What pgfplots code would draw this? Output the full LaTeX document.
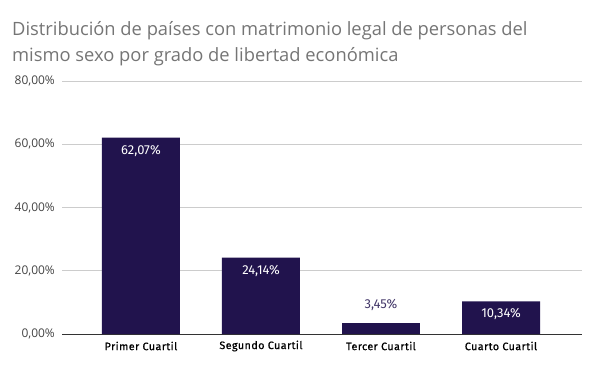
\documentclass[border=0pt]{standalone}
\usepackage{pgfplots}
\pgfplotsset{compat=1.18}
\usepackage{fontspec}
\setmainfont{Open Sans}
\newfontfamily\fira[LetterSpace=4, FakeBold=0.6]{Fira Sans}
\newfontfamily\firab{Fira Sans}
\definecolor{barc}{HTML}{21134D}
\definecolor{titlec}{HTML}{757575}
\definecolor{tickc}{HTML}{444444}
\definecolor{gridc}{HTML}{CCCCCC}
\definecolor{axisc}{HTML}{333333}
\begin{document}
\begin{tikzpicture}[x=1bp,y=1bp]
\useasboundingbox (0,0) rectangle (600,371);
\node[anchor=base west, inner sep=0, text=titlec, font=\fontsize{18.4}{20}\selectfont] at (12,336) {Distribución de países con matrimonio legal de personas del};
\node[anchor=base west, inner sep=0, text=titlec, font=\fontsize{18.4}{20}\selectfont] at (12,310) {mismo sexo por grado de libertad económica};
\begin{axis}[
  at={(62bp,37bp)}, anchor=south west,
  scale only axis, width=520bp, height=253bp,
  xmin=-0.658, xmax=3.675, ymin=0, ymax=80,
  axis x line*=bottom, axis y line*=left,
  y axis line style={draw=none},
  x axis line style={draw=axisc, line width=1bp},
  major tick length=0pt,
  ytick={0,20,40,60,80},
  yticklabels={{0,00\%},{20,00\%},{40,00\%},{60,00\%},{80,00\%}},
  xtick={0,1,2,3},
  xticklabels={Primer Cuartil,Segundo Cuartil,Tercer Cuartil,Cuarto Cuartil},
  ymajorgrids, grid style={draw=gridc, line width=0.8bp},
  yticklabel style={font=\fontsize{12}{14}\selectfont, text=tickc, anchor=east, inner sep=0pt, xshift=-7bp},
  xticklabel style={font=\fira\fontsize{10.8}{12}\selectfont, text=black, anchor=center, inner sep=0pt, yshift=-12bp},
  clip=false,
]
\addplot[ybar, bar width=78bp, fill=barc, draw=none,
  point meta=explicit symbolic,
  nodes near coords,
  nodes near coords style={font=\firab\fontsize{13}{14}\selectfont, text=white, anchor=center, yshift=-13bp, inner sep=0pt},
] coordinates {(0,62.07) [62,07\%] (1,24.14) [24,14\%] (3,10.34) [10,34\%]};
\addplot[ybar, bar width=78bp, fill=barc, draw=none,
  point meta=explicit symbolic,
  nodes near coords,
  nodes near coords style={font=\firab\fontsize{13}{14}\selectfont, text=barc!85!white, anchor=center, yshift=18bp, inner sep=0pt},
] coordinates {(2,3.45) [3,45\%]};
\end{axis}
\end{tikzpicture}
\end{document}
